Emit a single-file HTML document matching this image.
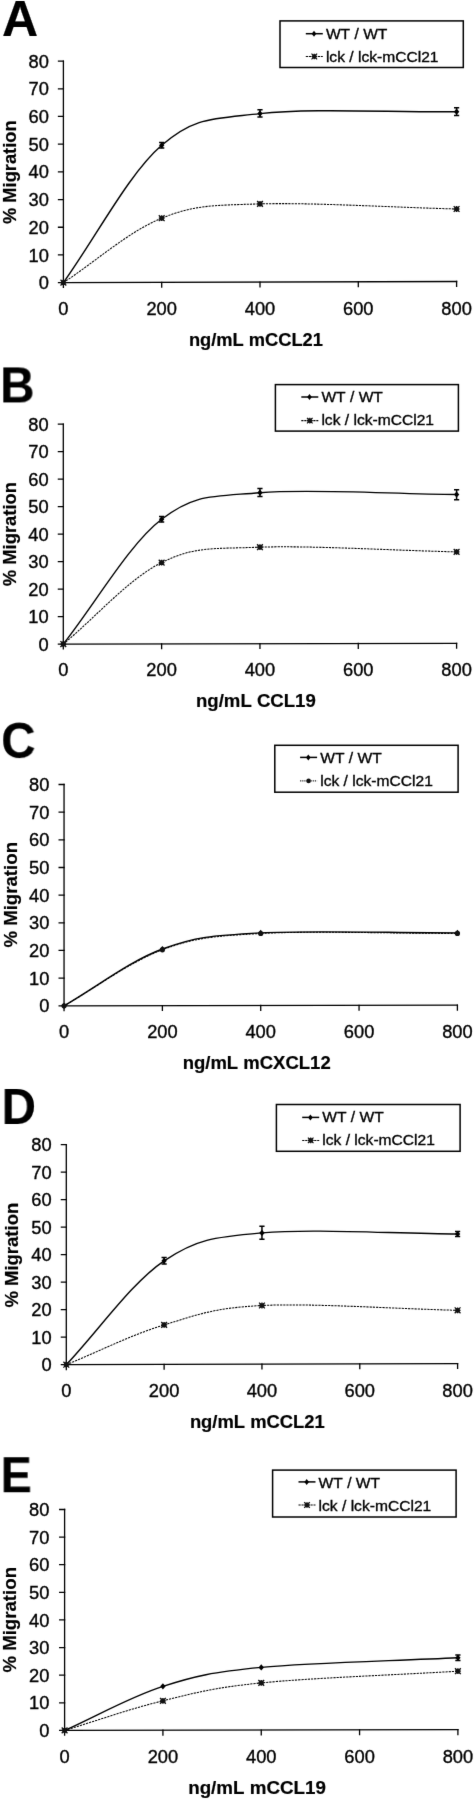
<!DOCTYPE html><html><head><meta charset="utf-8"><title>Migration</title>
<style>html,body{margin:0;padding:0;background:#fff;}svg{display:block;will-change:transform;}text{font-family:"Liberation Sans", sans-serif;font-kerning:none;fill:#000;stroke:#000;stroke-width:0.35px;}text.b{stroke-width:0.2px;}</style></head><body>
<svg width="474" height="1800" viewBox="0 0 474 1800">
<defs><filter id="sf" filterUnits="userSpaceOnUse" x="0" y="0" width="474" height="1800" color-interpolation-filters="sRGB"><feConvolveMatrix order="3" kernelMatrix="0.00524 0.06192 0.00524 0.06192 0.73137 0.06192 0.00524 0.06192 0.00524" divisor="1" edgeMode="none"/></filter></defs>
<g filter="url(#sf)">
<text transform="translate(1.95,36.00) scale(1.000,1)" font-size="50.00" font-weight="bold" class="b">A</text>
<g stroke="#000" stroke-width="1.3" fill="none" stroke-linecap="square"><path d="M63.40,61.10L63.40,282.60L456.60,281.50"/><path d="M58.50,282.60L63.40,282.60M58.50,254.91L63.40,254.91M58.50,227.23L63.40,227.23M58.50,199.54L63.40,199.54M58.50,171.85L63.40,171.85M58.50,144.16L63.40,144.16M58.50,116.47L63.40,116.47M58.50,88.79L63.40,88.79M58.50,61.10L63.40,61.10M63.40,282.60L63.40,287.40M161.70,282.33L161.70,287.13M260.00,282.05L260.00,286.85M358.30,281.77L358.30,286.57M456.60,281.50L456.60,286.30"/></g>
<text x="48.91" y="289.20" font-size="18.30" text-anchor="end">0</text>
<text x="48.91" y="261.51" font-size="18.30" text-anchor="end">10</text>
<text x="48.91" y="233.82" font-size="18.30" text-anchor="end">20</text>
<text x="48.91" y="206.14" font-size="18.30" text-anchor="end">30</text>
<text x="48.91" y="178.45" font-size="18.30" text-anchor="end">40</text>
<text x="48.91" y="150.76" font-size="18.30" text-anchor="end">50</text>
<text x="48.91" y="123.07" font-size="18.30" text-anchor="end">60</text>
<text x="48.91" y="95.39" font-size="18.30" text-anchor="end">70</text>
<text x="48.91" y="67.70" font-size="18.30" text-anchor="end">80</text>
<text x="63.40" y="315.30" font-size="18.30" text-anchor="middle">0</text>
<text x="161.70" y="315.30" font-size="18.30" text-anchor="middle">200</text>
<text x="260.00" y="315.30" font-size="18.30" text-anchor="middle">400</text>
<text x="358.30" y="315.30" font-size="18.30" text-anchor="middle">600</text>
<text x="456.60" y="315.30" font-size="18.30" text-anchor="middle">800</text>
<text x="188.89" y="345.90" font-size="18.30" font-weight="bold" class="b">ng/mL mCCL21</text>
<text transform="translate(15.70,172.21) rotate(-90)" font-size="18.30" font-weight="bold" class="b" text-anchor="middle">% Migration</text>
<path d="M63.40,282.60 C96.17,236.83 128.93,173.47 161.70,145.30 C194.47,117.13 210.85,119.20 260.00,113.60 C309.15,108.00 391.07,112.33 456.60,111.70" stroke="#000" stroke-width="1.4" fill="none"/>
<path d="M63.40,282.60 C96.17,261.13 128.93,231.32 161.70,218.20 C194.47,205.08 210.85,205.43 260.00,203.90 C309.15,202.37 391.07,207.30 456.60,209.00" stroke="#000" stroke-width="1.05" fill="none" stroke-dasharray="2.2,1.0"/>
<path d="M63.40,279.50L66.10,282.60L63.40,285.70L60.70,282.60Z" fill="#000"/>
<path d="M161.70,142.30L161.70,148.30M159.10,142.50L164.30,142.50M159.10,148.10L164.30,148.10" stroke="#000" stroke-width="1.5" fill="none"/>
<path d="M161.70,142.20L164.40,145.30L161.70,148.40L159.00,145.30Z" fill="#000"/>
<path d="M260.00,109.50L260.00,117.10M257.40,109.70L262.60,109.70M257.40,116.90L262.60,116.90" stroke="#000" stroke-width="1.5" fill="none"/>
<path d="M260.00,110.50L262.70,113.60L260.00,116.70L257.30,113.60Z" fill="#000"/>
<path d="M456.60,107.60L456.60,115.60M454.00,107.80L459.20,107.80M454.00,115.40L459.20,115.40" stroke="#000" stroke-width="1.5" fill="none"/>
<path d="M456.60,108.60L459.30,111.70L456.60,114.80L453.90,111.70Z" fill="#000"/>
<path d="M60.50,279.70L66.30,285.50M60.50,285.50L66.30,279.70M63.40,279.70L63.40,285.50M60.50,282.60L66.30,282.60" stroke="#111" stroke-width="1.30" fill="none"/><rect x="61.08" y="280.28" width="4.64" height="4.64" fill="#111" opacity="0.8"/>
<path d="M158.80,215.30L164.60,221.10M158.80,221.10L164.60,215.30M161.70,215.30L161.70,221.10M158.80,218.20L164.60,218.20" stroke="#111" stroke-width="1.30" fill="none"/><rect x="159.38" y="215.88" width="4.64" height="4.64" fill="#111" opacity="0.8"/>
<path d="M257.10,201.00L262.90,206.80M257.10,206.80L262.90,201.00M260.00,201.00L260.00,206.80M257.10,203.90L262.90,203.90" stroke="#111" stroke-width="1.30" fill="none"/><rect x="257.68" y="201.58" width="4.64" height="4.64" fill="#111" opacity="0.8"/>
<path d="M453.70,206.10L459.50,211.90M453.70,211.90L459.50,206.10M456.60,206.10L456.60,211.90M453.70,209.00L459.50,209.00" stroke="#111" stroke-width="1.30" fill="none"/><rect x="454.28" y="206.68" width="4.64" height="4.64" fill="#111" opacity="0.8"/>
<rect x="280.00" y="20.90" width="183.30" height="46.60" fill="none" stroke="#000" stroke-width="1.5"/>
<path d="M305.80,33.70L322.80,33.70" stroke="#000" stroke-width="1.5"/>
<path d="M314.00,30.70L316.30,33.70L314.00,36.70L311.70,33.70Z" fill="#000"/>
<path d="M305.80,56.50L322.80,56.50" stroke="#000" stroke-width="1.05" stroke-dasharray="2.2,0.8"/>
<path d="M311.50,53.70L317.10,59.30M311.50,59.30L317.10,53.70M314.30,53.70L314.30,59.30M311.50,56.50L317.10,56.50" stroke="#111" stroke-width="1.20" fill="none"/><rect x="312.06" y="54.26" width="4.48" height="4.48" fill="#111" opacity="0.8"/>
<text transform="translate(325.90,38.60) scale(1,0.895)" font-size="15.60">WT / WT</text>
<text transform="translate(325.90,61.70) scale(1,0.895)" font-size="15.60">lck / lck-mCCl21</text>
<text transform="translate(0.22,402.40) scale(0.950,1)" font-size="50.00" font-weight="bold" class="b">B</text>
<g stroke="#000" stroke-width="1.3" fill="none" stroke-linecap="square"><path d="M63.30,424.20L63.30,644.05L456.60,643.30"/><path d="M58.40,644.05L63.30,644.05M58.40,616.57L63.30,616.57M58.40,589.09L63.30,589.09M58.40,561.61L63.30,561.61M58.40,534.12L63.30,534.12M58.40,506.64L63.30,506.64M58.40,479.16L63.30,479.16M58.40,451.68L63.30,451.68M58.40,424.20L63.30,424.20M63.30,644.05L63.30,648.85M161.62,643.86L161.62,648.66M259.95,643.67L259.95,648.47M358.28,643.49L358.28,648.29M456.60,643.30L456.60,648.10"/></g>
<text x="48.71" y="650.65" font-size="18.30" text-anchor="end">0</text>
<text x="48.71" y="623.17" font-size="18.30" text-anchor="end">10</text>
<text x="48.71" y="595.69" font-size="18.30" text-anchor="end">20</text>
<text x="48.71" y="568.21" font-size="18.30" text-anchor="end">30</text>
<text x="48.71" y="540.72" font-size="18.30" text-anchor="end">40</text>
<text x="48.71" y="513.24" font-size="18.30" text-anchor="end">50</text>
<text x="48.71" y="485.76" font-size="18.30" text-anchor="end">60</text>
<text x="48.71" y="458.28" font-size="18.30" text-anchor="end">70</text>
<text x="48.71" y="430.80" font-size="18.30" text-anchor="end">80</text>
<text x="63.30" y="676.30" font-size="18.30" text-anchor="middle">0</text>
<text x="161.62" y="676.30" font-size="18.30" text-anchor="middle">200</text>
<text x="259.95" y="676.30" font-size="18.30" text-anchor="middle">400</text>
<text x="358.28" y="676.30" font-size="18.30" text-anchor="middle">600</text>
<text x="456.60" y="676.30" font-size="18.30" text-anchor="middle">800</text>
<text x="195.97" y="707.10" font-size="18.60" font-weight="bold" class="b">ng/mL CCL19</text>
<text transform="translate(15.70,534.06) rotate(-90)" font-size="18.40" font-weight="bold" class="b" text-anchor="middle">% Migration</text>
<path d="M63.30,644.05 C96.07,602.47 128.85,544.52 161.62,519.30 C194.40,494.07 210.79,496.83 259.95,492.70 C309.11,488.57 391.05,493.90 456.60,494.50" stroke="#000" stroke-width="1.4" fill="none"/>
<path d="M63.30,644.05 C96.07,616.90 128.85,578.74 161.62,562.60 C194.40,546.46 210.79,548.98 259.95,547.20 C309.11,545.42 391.05,550.33 456.60,551.90" stroke="#000" stroke-width="1.05" fill="none" stroke-dasharray="2.2,1.0"/>
<path d="M63.30,640.95L66.00,644.05L63.30,647.15L60.60,644.05Z" fill="#000"/>
<path d="M161.62,516.30L161.62,522.30M159.03,516.50L164.22,516.50M159.03,522.10L164.22,522.10" stroke="#000" stroke-width="1.5" fill="none"/>
<path d="M161.62,516.20L164.32,519.30L161.62,522.40L158.93,519.30Z" fill="#000"/>
<path d="M259.95,488.40L259.95,496.60M257.35,488.60L262.55,488.60M257.35,496.40L262.55,496.40" stroke="#000" stroke-width="1.5" fill="none"/>
<path d="M259.95,489.60L262.65,492.70L259.95,495.80L257.25,492.70Z" fill="#000"/>
<path d="M456.60,489.50L456.60,500.00M454.00,489.70L459.20,489.70M454.00,499.80L459.20,499.80" stroke="#000" stroke-width="1.5" fill="none"/>
<path d="M456.60,491.40L459.30,494.50L456.60,497.60L453.90,494.50Z" fill="#000"/>
<path d="M60.40,641.15L66.20,646.95M60.40,646.95L66.20,641.15M63.30,641.15L63.30,646.95M60.40,644.05L66.20,644.05" stroke="#111" stroke-width="1.30" fill="none"/><rect x="60.98" y="641.73" width="4.64" height="4.64" fill="#111" opacity="0.8"/>
<path d="M158.72,559.70L164.53,565.50M158.72,565.50L164.53,559.70M161.62,559.70L161.62,565.50M158.72,562.60L164.53,562.60" stroke="#111" stroke-width="1.30" fill="none"/><rect x="159.31" y="560.28" width="4.64" height="4.64" fill="#111" opacity="0.8"/>
<path d="M257.05,544.30L262.85,550.10M257.05,550.10L262.85,544.30M259.95,544.30L259.95,550.10M257.05,547.20L262.85,547.20" stroke="#111" stroke-width="1.30" fill="none"/><rect x="257.63" y="544.88" width="4.64" height="4.64" fill="#111" opacity="0.8"/>
<path d="M453.70,549.00L459.50,554.80M453.70,554.80L459.50,549.00M456.60,549.00L456.60,554.80M453.70,551.90L459.50,551.90" stroke="#111" stroke-width="1.30" fill="none"/><rect x="454.28" y="549.58" width="4.64" height="4.64" fill="#111" opacity="0.8"/>
<rect x="275.40" y="384.60" width="183.00" height="46.50" fill="none" stroke="#000" stroke-width="1.5"/>
<path d="M301.30,397.00L318.30,397.00" stroke="#000" stroke-width="1.5"/>
<path d="M309.50,394.00L311.80,397.00L309.50,400.00L307.20,397.00Z" fill="#000"/>
<path d="M301.30,420.60L318.30,420.60" stroke="#000" stroke-width="1.05" stroke-dasharray="2.2,0.8"/>
<path d="M307.00,417.80L312.60,423.40M307.00,423.40L312.60,417.80M309.80,417.80L309.80,423.40M307.00,420.60L312.60,420.60" stroke="#111" stroke-width="1.20" fill="none"/><rect x="307.56" y="418.36" width="4.48" height="4.48" fill="#111" opacity="0.8"/>
<text transform="translate(321.40,402.30) scale(1,0.895)" font-size="15.60">WT / WT</text>
<text transform="translate(321.40,425.40) scale(1,0.895)" font-size="15.60">lck / lck-mCCl21</text>
<text transform="translate(1.26,758.11) scale(0.945,1)" font-size="50.00" font-weight="bold" class="b">C</text>
<g stroke="#000" stroke-width="1.3" fill="none" stroke-linecap="square"><path d="M64.05,784.50L64.05,1005.80L457.40,1005.20"/><path d="M59.15,1005.80L64.05,1005.80M59.15,978.14L64.05,978.14M59.15,950.47L64.05,950.47M59.15,922.81L64.05,922.81M59.15,895.15L64.05,895.15M59.15,867.49L64.05,867.49M59.15,839.83L64.05,839.83M59.15,812.16L64.05,812.16M59.15,784.50L64.05,784.50M64.05,1005.80L64.05,1010.60M162.39,1005.65L162.39,1010.45M260.72,1005.50L260.72,1010.30M359.06,1005.35L359.06,1010.15M457.40,1005.20L457.40,1010.00"/></g>
<text x="49.41" y="1012.40" font-size="18.30" text-anchor="end">0</text>
<text x="49.41" y="984.74" font-size="18.30" text-anchor="end">10</text>
<text x="49.41" y="957.07" font-size="18.30" text-anchor="end">20</text>
<text x="49.41" y="929.41" font-size="18.30" text-anchor="end">30</text>
<text x="49.41" y="901.75" font-size="18.30" text-anchor="end">40</text>
<text x="49.41" y="874.09" font-size="18.30" text-anchor="end">50</text>
<text x="49.41" y="846.42" font-size="18.30" text-anchor="end">60</text>
<text x="49.41" y="818.76" font-size="18.30" text-anchor="end">70</text>
<text x="49.41" y="791.10" font-size="18.30" text-anchor="end">80</text>
<text x="64.05" y="1038.00" font-size="18.30" text-anchor="middle">0</text>
<text x="162.39" y="1038.00" font-size="18.30" text-anchor="middle">200</text>
<text x="260.72" y="1038.00" font-size="18.30" text-anchor="middle">400</text>
<text x="359.06" y="1038.00" font-size="18.30" text-anchor="middle">600</text>
<text x="457.40" y="1038.00" font-size="18.30" text-anchor="middle">800</text>
<text x="182.68" y="1068.50" font-size="18.50" font-weight="bold" class="b">ng/mL mCXCL12</text>
<text transform="translate(17.00,894.80) rotate(-90)" font-size="18.65" font-weight="bold" class="b" text-anchor="middle">% Migration</text>
<path d="M64.05,1005.80 C96.83,986.87 129.61,961.15 162.39,949.00 C195.17,936.85 211.56,935.58 260.72,932.90 C309.89,930.22 391.84,932.90 457.40,932.90" stroke="#000" stroke-width="1.4" fill="none"/>
<path d="M64.05,1005.80 C96.83,987.13 129.61,961.85 162.39,949.80 C195.17,937.75 211.56,936.23 260.72,933.50 C309.89,930.77 391.84,933.43 457.40,933.40" stroke="#000" stroke-width="1.05" fill="none" stroke-dasharray="2.2,1.0"/>
<path d="M64.05,1002.70L66.75,1005.80L64.05,1008.90L61.35,1005.80Z" fill="#000"/>
<path d="M162.39,945.90L165.09,949.00L162.39,952.10L159.69,949.00Z" fill="#000"/>
<path d="M260.72,929.80L263.42,932.90L260.72,936.00L258.02,932.90Z" fill="#000"/>
<path d="M457.40,929.80L460.10,932.90L457.40,936.00L454.70,932.90Z" fill="#000"/>
<circle cx="64.05" cy="1005.80" r="2.60" fill="#111"/>
<circle cx="162.39" cy="949.80" r="2.60" fill="#111"/>
<circle cx="260.72" cy="933.50" r="2.60" fill="#111"/>
<circle cx="457.40" cy="933.40" r="2.60" fill="#111"/>
<rect x="274.80" y="745.30" width="183.30" height="46.90" fill="none" stroke="#000" stroke-width="1.5"/>
<path d="M300.10,757.40L317.10,757.40" stroke="#000" stroke-width="1.5"/>
<path d="M308.30,754.40L310.60,757.40L308.30,760.40L306.00,757.40Z" fill="#000"/>
<path d="M300.10,780.90L317.10,780.90" stroke="#222" stroke-width="1.1" stroke-dasharray="1.2,0.9"/>
<circle cx="308.60" cy="780.90" r="2.30" fill="#111"/>
<text transform="translate(320.20,763.00) scale(1,0.895)" font-size="15.60">WT / WT</text>
<text transform="translate(320.20,786.10) scale(1,0.895)" font-size="15.60">lck / lck-mCCl21</text>
<text transform="translate(1.62,1124.00) scale(0.950,1)" font-size="50.00" font-weight="bold" class="b">D</text>
<g stroke="#000" stroke-width="1.3" fill="none" stroke-linecap="square"><path d="M66.30,1144.70L66.30,1364.70L457.60,1363.60"/><path d="M61.40,1364.70L66.30,1364.70M61.40,1337.20L66.30,1337.20M61.40,1309.70L66.30,1309.70M61.40,1282.20L66.30,1282.20M61.40,1254.70L66.30,1254.70M61.40,1227.20L66.30,1227.20M61.40,1199.70L66.30,1199.70M61.40,1172.20L66.30,1172.20M61.40,1144.70L66.30,1144.70M66.30,1364.70L66.30,1369.50M164.12,1364.42L164.12,1369.22M261.95,1364.15L261.95,1368.95M359.78,1363.88L359.78,1368.67M457.60,1363.60L457.60,1368.40"/></g>
<text x="51.71" y="1371.30" font-size="18.30" text-anchor="end">0</text>
<text x="51.71" y="1343.80" font-size="18.30" text-anchor="end">10</text>
<text x="51.71" y="1316.30" font-size="18.30" text-anchor="end">20</text>
<text x="51.71" y="1288.80" font-size="18.30" text-anchor="end">30</text>
<text x="51.71" y="1261.30" font-size="18.30" text-anchor="end">40</text>
<text x="51.71" y="1233.80" font-size="18.30" text-anchor="end">50</text>
<text x="51.71" y="1206.30" font-size="18.30" text-anchor="end">60</text>
<text x="51.71" y="1178.80" font-size="18.30" text-anchor="end">70</text>
<text x="51.71" y="1151.30" font-size="18.30" text-anchor="end">80</text>
<text x="66.30" y="1397.40" font-size="18.30" text-anchor="middle">0</text>
<text x="164.12" y="1397.40" font-size="18.30" text-anchor="middle">200</text>
<text x="261.95" y="1397.40" font-size="18.30" text-anchor="middle">400</text>
<text x="359.78" y="1397.40" font-size="18.30" text-anchor="middle">600</text>
<text x="457.60" y="1397.40" font-size="18.30" text-anchor="middle">800</text>
<text x="189.89" y="1427.70" font-size="18.40" font-weight="bold" class="b">ng/mL mCCL21</text>
<text transform="translate(18.30,1255.16) rotate(-90)" font-size="18.50" font-weight="bold" class="b" text-anchor="middle">% Migration</text>
<path d="M66.30,1364.70 C98.91,1330.07 131.52,1282.77 164.12,1260.80 C196.73,1238.83 213.04,1237.37 261.95,1232.90 C310.86,1228.43 392.38,1233.63 457.60,1234.00" stroke="#000" stroke-width="1.4" fill="none"/>
<path d="M66.30,1364.70 C98.91,1351.43 131.52,1334.77 164.12,1324.90 C196.73,1315.03 213.04,1307.93 261.95,1305.50 C310.86,1303.07 392.38,1308.70 457.60,1310.30" stroke="#000" stroke-width="1.05" fill="none" stroke-dasharray="2.2,1.0"/>
<path d="M66.30,1361.60L69.00,1364.70L66.30,1367.80L63.60,1364.70Z" fill="#000"/>
<path d="M164.12,1257.40L164.12,1264.20M161.53,1257.60L166.72,1257.60M161.53,1264.00L166.72,1264.00" stroke="#000" stroke-width="1.5" fill="none"/>
<path d="M164.12,1257.70L166.82,1260.80L164.12,1263.90L161.43,1260.80Z" fill="#000"/>
<path d="M261.95,1226.10L261.95,1239.50M259.35,1226.30L264.55,1226.30M259.35,1239.30L264.55,1239.30" stroke="#000" stroke-width="1.5" fill="none"/>
<path d="M261.95,1229.80L264.65,1232.90L261.95,1236.00L259.25,1232.90Z" fill="#000"/>
<path d="M457.60,1231.20L457.60,1236.80M455.00,1231.40L460.20,1231.40M455.00,1236.60L460.20,1236.60" stroke="#000" stroke-width="1.5" fill="none"/>
<path d="M457.60,1230.90L460.30,1234.00L457.60,1237.10L454.90,1234.00Z" fill="#000"/>
<path d="M63.40,1361.80L69.20,1367.60M63.40,1367.60L69.20,1361.80M66.30,1361.80L66.30,1367.60M63.40,1364.70L69.20,1364.70" stroke="#111" stroke-width="1.30" fill="none"/><rect x="63.98" y="1362.38" width="4.64" height="4.64" fill="#111" opacity="0.8"/>
<path d="M161.22,1322.00L167.03,1327.80M161.22,1327.80L167.03,1322.00M164.12,1322.00L164.12,1327.80M161.22,1324.90L167.03,1324.90" stroke="#111" stroke-width="1.30" fill="none"/><rect x="161.81" y="1322.58" width="4.64" height="4.64" fill="#111" opacity="0.8"/>
<path d="M259.05,1302.60L264.85,1308.40M259.05,1308.40L264.85,1302.60M261.95,1302.60L261.95,1308.40M259.05,1305.50L264.85,1305.50" stroke="#111" stroke-width="1.30" fill="none"/><rect x="259.63" y="1303.18" width="4.64" height="4.64" fill="#111" opacity="0.8"/>
<path d="M454.70,1307.40L460.50,1313.20M454.70,1313.20L460.50,1307.40M457.60,1307.40L457.60,1313.20M454.70,1310.30L460.50,1310.30" stroke="#111" stroke-width="1.30" fill="none"/><rect x="455.28" y="1307.98" width="4.64" height="4.64" fill="#111" opacity="0.8"/>
<rect x="276.40" y="1104.50" width="183.70" height="46.80" fill="none" stroke="#000" stroke-width="1.5"/>
<path d="M302.20,1117.40L319.20,1117.40" stroke="#000" stroke-width="1.5"/>
<path d="M310.40,1114.40L312.70,1117.40L310.40,1120.40L308.10,1117.40Z" fill="#000"/>
<path d="M302.20,1140.40L319.20,1140.40" stroke="#000" stroke-width="1.05" stroke-dasharray="2.2,0.8"/>
<path d="M307.90,1137.60L313.50,1143.20M307.90,1143.20L313.50,1137.60M310.70,1137.60L310.70,1143.20M307.90,1140.40L313.50,1140.40" stroke="#111" stroke-width="1.20" fill="none"/><rect x="308.46" y="1138.16" width="4.48" height="4.48" fill="#111" opacity="0.8"/>
<text transform="translate(322.30,1122.20) scale(1,0.895)" font-size="15.60">WT / WT</text>
<text transform="translate(322.30,1145.30) scale(1,0.895)" font-size="15.60">lck / lck-mCCl21</text>
<text transform="translate(0.69,1492.20) scale(0.930,1)" font-size="50.00" font-weight="bold" class="b">E</text>
<g stroke="#000" stroke-width="1.3" fill="none" stroke-linecap="square"><path d="M64.60,1509.50L64.60,1730.40L457.90,1729.70"/><path d="M59.70,1730.40L64.60,1730.40M59.70,1702.79L64.60,1702.79M59.70,1675.18L64.60,1675.18M59.70,1647.56L64.60,1647.56M59.70,1619.95L64.60,1619.95M59.70,1592.34L64.60,1592.34M59.70,1564.72L64.60,1564.72M59.70,1537.11L64.60,1537.11M59.70,1509.50L64.60,1509.50M64.60,1730.40L64.60,1735.20M162.92,1730.23L162.92,1735.03M261.25,1730.05L261.25,1734.85M359.57,1729.88L359.57,1734.67M457.90,1729.70L457.90,1734.50"/></g>
<text x="49.41" y="1737.00" font-size="18.30" text-anchor="end">0</text>
<text x="49.41" y="1709.39" font-size="18.30" text-anchor="end">10</text>
<text x="49.41" y="1681.77" font-size="18.30" text-anchor="end">20</text>
<text x="49.41" y="1654.16" font-size="18.30" text-anchor="end">30</text>
<text x="49.41" y="1626.55" font-size="18.30" text-anchor="end">40</text>
<text x="49.41" y="1598.94" font-size="18.30" text-anchor="end">50</text>
<text x="49.41" y="1571.32" font-size="18.30" text-anchor="end">60</text>
<text x="49.41" y="1543.71" font-size="18.30" text-anchor="end">70</text>
<text x="49.41" y="1516.10" font-size="18.30" text-anchor="end">80</text>
<text x="64.60" y="1763.40" font-size="18.30" text-anchor="middle">0</text>
<text x="162.92" y="1763.40" font-size="18.30" text-anchor="middle">200</text>
<text x="261.25" y="1763.40" font-size="18.30" text-anchor="middle">400</text>
<text x="359.57" y="1763.40" font-size="18.30" text-anchor="middle">600</text>
<text x="457.90" y="1763.40" font-size="18.30" text-anchor="middle">800</text>
<text x="188.16" y="1793.90" font-size="18.80" font-weight="bold" class="b">ng/mL mCCL19</text>
<text transform="translate(16.40,1619.80) rotate(-90)" font-size="18.65" font-weight="bold" class="b" text-anchor="middle">% Migration</text>
<path d="M64.60,1730.40 C97.38,1715.70 130.15,1696.80 162.92,1686.30 C195.70,1675.80 212.09,1672.15 261.25,1667.40 C310.41,1662.65 392.35,1661.00 457.90,1657.80" stroke="#000" stroke-width="1.4" fill="none"/>
<path d="M64.60,1730.40 C97.38,1720.53 130.15,1708.72 162.92,1700.80 C195.70,1692.88 212.09,1687.83 261.25,1682.90 C310.41,1677.97 392.35,1675.10 457.90,1671.20" stroke="#000" stroke-width="1.05" fill="none" stroke-dasharray="2.2,1.0"/>
<path d="M64.60,1727.30L67.30,1730.40L64.60,1733.50L61.90,1730.40Z" fill="#000"/>
<path d="M162.92,1683.20L165.62,1686.30L162.92,1689.40L160.22,1686.30Z" fill="#000"/>
<path d="M261.25,1664.30L263.95,1667.40L261.25,1670.50L258.55,1667.40Z" fill="#000"/>
<path d="M457.90,1654.80L457.90,1660.80M455.30,1655.00L460.50,1655.00M455.30,1660.60L460.50,1660.60" stroke="#000" stroke-width="1.5" fill="none"/>
<path d="M457.90,1654.70L460.60,1657.80L457.90,1660.90L455.20,1657.80Z" fill="#000"/>
<path d="M61.70,1727.50L67.50,1733.30M61.70,1733.30L67.50,1727.50M64.60,1727.50L64.60,1733.30M61.70,1730.40L67.50,1730.40" stroke="#111" stroke-width="1.30" fill="none"/><rect x="62.28" y="1728.08" width="4.64" height="4.64" fill="#111" opacity="0.8"/>
<path d="M160.02,1697.90L165.82,1703.70M160.02,1703.70L165.82,1697.90M162.92,1697.90L162.92,1703.70M160.02,1700.80L165.82,1700.80" stroke="#111" stroke-width="1.30" fill="none"/><rect x="160.60" y="1698.48" width="4.64" height="4.64" fill="#111" opacity="0.8"/>
<path d="M258.35,1680.00L264.15,1685.80M258.35,1685.80L264.15,1680.00M261.25,1680.00L261.25,1685.80M258.35,1682.90L264.15,1682.90" stroke="#111" stroke-width="1.30" fill="none"/><rect x="258.93" y="1680.58" width="4.64" height="4.64" fill="#111" opacity="0.8"/>
<path d="M455.00,1668.30L460.80,1674.10M455.00,1674.10L460.80,1668.30M457.90,1668.30L457.90,1674.10M455.00,1671.20L460.80,1671.20" stroke="#111" stroke-width="1.30" fill="none"/><rect x="455.58" y="1668.88" width="4.64" height="4.64" fill="#111" opacity="0.8"/>
<rect x="272.60" y="1470.10" width="183.50" height="46.90" fill="none" stroke="#000" stroke-width="1.5"/>
<path d="M298.50,1481.90L315.50,1481.90" stroke="#000" stroke-width="1.5"/>
<path d="M306.70,1478.90L309.00,1481.90L306.70,1484.90L304.40,1481.90Z" fill="#000"/>
<path d="M298.50,1505.00L315.50,1505.00" stroke="#000" stroke-width="1.05" stroke-dasharray="2.2,0.8"/>
<path d="M304.20,1502.20L309.80,1507.80M304.20,1507.80L309.80,1502.20M307.00,1502.20L307.00,1507.80M304.20,1505.00L309.80,1505.00" stroke="#111" stroke-width="1.20" fill="none"/><rect x="304.76" y="1502.76" width="4.48" height="4.48" fill="#111" opacity="0.8"/>
<text transform="translate(318.60,1487.80) scale(1,0.895)" font-size="15.60">WT / WT</text>
<text transform="translate(318.60,1510.90) scale(1,0.895)" font-size="15.60">lck / lck-mCCl21</text>
</g></svg></body></html>
